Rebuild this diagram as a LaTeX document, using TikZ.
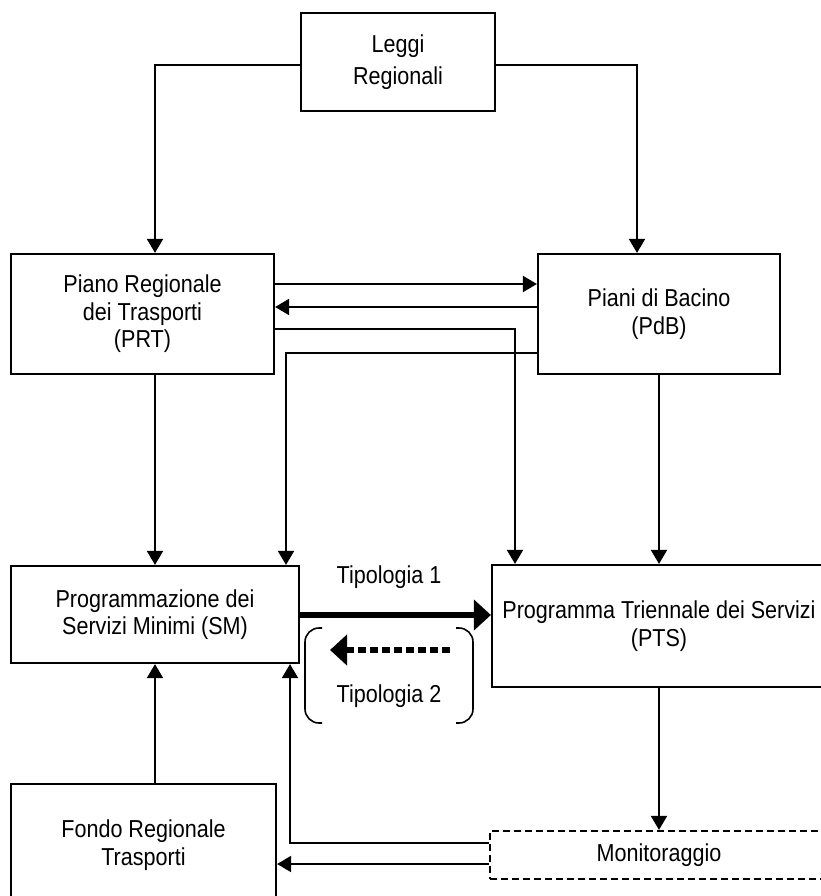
\documentclass[tikz,border=0pt]{standalone}
\usepackage{fontspec}
\setmainfont{Liberation Sans}[FakeStretch=0.88]
\usetikzlibrary{arrows.meta}

\tikzset{
  box/.style={draw, line width=2.2pt, align=center, inner sep=0pt,
              font=\fontsize{24.5}{27.5}\selectfont},
  con/.style={line width=2pt, -{Triangle[length=14pt,width=16pt]}},
  bold arrow/.style={line width=5.5pt, -{Triangle[length=17pt,width=30pt]}},
  dotted arrow/.style={line width=6pt, dash pattern=on 8pt off 4pt,
                       -{Triangle[length=17pt,width=30pt]}},
  lbl/.style={font=\fontsize{24.5}{27.5}\selectfont, anchor=base, inner sep=0pt},
  brace/.style={line width=1.6pt, rounded corners=14pt}
}

\begin{document}
\begin{tikzpicture}[x=1pt, y=-1pt]
\useasboundingbox (0,0) rectangle (820,896);

% boxes
\node[box, minimum width=194pt, minimum height=98pt,
      font=\fontsize{24.5}{32}\selectfont] (L) at (398,62) {Leggi\\Regionali};
\node[box, minimum width=263pt, minimum height=120pt] (P) at (142.5,314)
      {Piano Regionale\\dei Trasporti\\(PRT)};
\node[box, minimum width=242pt, minimum height=120pt] (D) at (659,314)
      {Piani di Bacino\\(PdB)};
\node[box, minimum width=288pt, minimum height=97pt] (S) at (155,614.5)
      {Programmazione dei\\Servizi Minimi (SM)};
\node[box, minimum width=334pt, minimum height=122pt] (T) at (659,626)
      {Programma Triennale dei Servizi\\(PTS)};
\node[box, minimum width=265pt, minimum height=122pt] (F) at (143.5,845)
      {Fondo Regionale\\Trasporti};
\node[box, dash pattern=on 7pt off 4pt, minimum width=338pt, minimum height=48pt]
      (M) at (659,855) {Monitoraggio};

% labels between SM and PTS
\node[lbl] (t1) at (389,583) {Tipologia 1};
\node[lbl] (t2) at (389,702) {Tipologia 2};

% connectors from the regional laws
\draw[con] ([yshift=-3pt]L.west) -| (P.north -| S.north);
\draw[con] ([yshift=-3pt]L.east) -| ([xshift=-22pt]D.north);

% links between PRT and PdB
\draw[con] ([yshift=30pt]P.east) -- ([yshift=30pt]P.east -| D.west);
\draw[con] ([yshift=7pt]D.west) -- ([yshift=7pt]D.west -| P.east);
\draw[con] ([yshift=-15pt]P.east) -| ([xshift=-144pt]T.north);
\draw[con] ([yshift=-39pt]D.west) -| ([xshift=131pt]S.north);

% vertical links
\draw[con] (P.south -| S.north) -- (S.north);
\draw[con] (D.south) -- (T.north);
\draw[con] (F.north -| S.south) -- (S.south);
\draw[con] (T.south) -- (M.north);

% SM to PTS
\draw[bold arrow] (S.east |- 0,615) -- (T.west |- 0,615);
\coordinate (d1) at (450,650);
\coordinate (d2) at (330,650);
\draw[dotted arrow] (d1) -- (d2);
\draw[brace] (322,628) -- (305,628) -- (305,723) -- (322,723);
\draw[brace] (456,628) -- (473,628) -- (473,723) -- (456,723);

% feedback from monitoring
\draw[con] ([yshift=12pt]M.west) -| ([xshift=135pt]S.south);
\draw[con] ([yshift=-9pt]M.west) -- ([yshift=-9pt]M.west -| F.east);
\end{tikzpicture}
\end{document}
